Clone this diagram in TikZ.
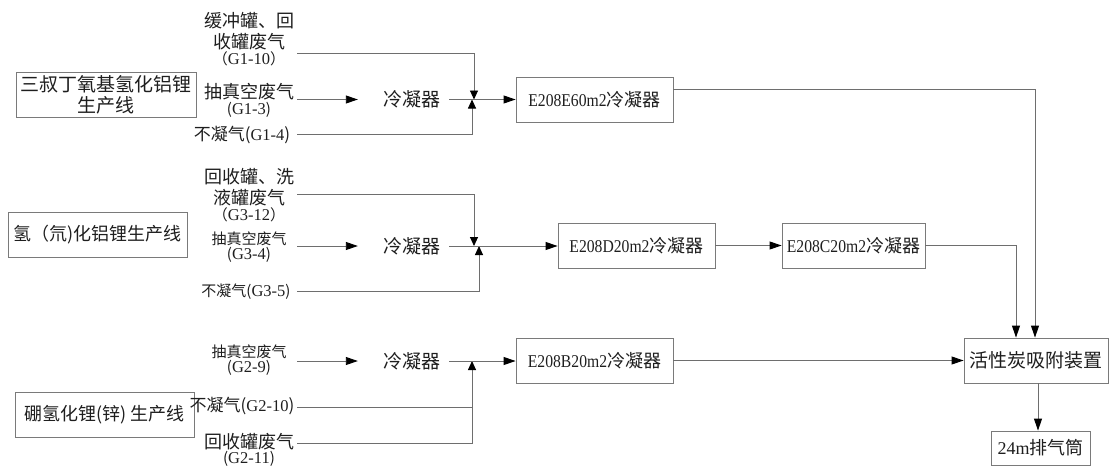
\documentclass[tikz,border=0pt]{standalone}
\usepackage{fontspec}
\setmainfont{Liberation Serif}
\newfontfamily\cjk{Noto Sans CJK SC}
\newfontfamily\latn{Liberation Serif}
\newfontfamily\latnc[FakeStretch=0.87]{Liberation Serif}
\usetikzlibrary{arrows.meta}

\definecolor{linegray}{HTML}{6E6E6E}
\definecolor{boxgray}{HTML}{7A7A7A}
\definecolor{inkgray}{HTML}{1E1E1E}

\newcommand\bigtxt{\cjk\fontsize{18}{21}\selectfont}
\newcommand\midtxt{\cjk\fontsize{17}{20}\selectfont}
\newcommand\smtxt{\cjk\fontsize{15}{17}\selectfont}
% Latin code of a stream, e.g. G1-3
\newcommand\gcode[1]{{\latn\fontsize{16.5}{17}\selectfont #1}}

\tikzset{
  procbox/.style={draw=boxgray, line width=0.9pt, inner sep=0pt,
    minimum height=45pt, align=center, text=inkgray, font=\bigtxt},
  lbl/.style={inner sep=0pt, align=center, text=inkgray},
  condnode/.style={inner sep=0pt, minimum width=74pt, minimum height=20pt,
    text=inkgray, font=\cjk\fontsize{19}{21}\selectfont},
  flow/.style={draw=linegray, line width=0.9pt},
  tip/.style={-{Triangle[length=12pt,width=8pt,color=black]}},
  jtip/.style={-{Triangle[length=9pt,width=8pt,color=black]}},
}

\begin{document}
\begin{tikzpicture}[x=1pt,y=-1pt]
\useasboundingbox (0,0) rectangle (1111,466);

% ---------- production lines ----------
\node[procbox, minimum width=180pt, font=\cjk\fontsize{19}{21}\selectfont]
  (lineA) at (106,94.5) {三叔丁氧基氢化铝锂\\生产线};
\node[procbox, minimum width=179pt] (lineB) at (97.5,235)
  {氢（氘)化铝锂生产线};
\node[procbox, minimum width=179pt] (lineC) at (104.5,414.5)
  {硼氢化锂(锌) 生产线};

% ---------- row 1 ----------
\node[lbl, font=\bigtxt] (gA1) at (249,39)
  {缓冲罐、回\\收罐废气\\[-5pt]{\smtxt （\gcode{G1-10}）}};
\node[lbl, font=\bigtxt] (gA2) at (249,100)
  {抽真空废气\\[-5pt]{\smtxt (\gcode{G1-3})}};
\node[lbl, font=\midtxt] (gA3) at (242,135) {不凝气(\gcode{G1-4})};
\node[condnode] (condA) at (412,99.5) {冷凝器};
\node[procbox, minimum width=157pt] (E1) at (594.5,99.5)
  {{\latnc E208E60m2}冷凝器};

\coordinate (sA1) at (297,53);
\coordinate (sA2) at (297,99.5);
\coordinate (sA3) at (297,134);
\coordinate (jAd) at (474,99.5);
\coordinate (jAu) at (472,99.5);

\draw[flow, jtip] (sA1) -| (jAd);
\draw[flow, jtip] (sA3) -| (jAu);
\draw[flow, tip] (sA2) -- ([xshift=-17pt]condA.west);
\draw[flow, tip] (condA.east) -- (condA.east -| E1.west);

% ---------- row 2 ----------
\node[lbl, font=\bigtxt] (gB1) at (249,195)
  {回收罐、洗\\液罐废气\\[-5pt]{\smtxt （\gcode{G3-12}）}};
\node[lbl, font=\smtxt] (gB2) at (249,247)
  {抽真空废气\\[-2pt](\gcode{G3-4})};
\node[lbl, font=\smtxt] (gB3) at (246,292) {不凝气(\gcode{G3-5})};
\node[condnode] (condB) at (412,246) {冷凝器};
\node[procbox, minimum width=157pt] (E2) at (636.5,245.5)
  {{\latnc E208D20m2}冷凝器};
\node[procbox, minimum width=143pt] (E3) at (853.5,245.5)
  {{\latnc E208C20m2}冷凝器};

\coordinate (sB1) at (297,194);
\coordinate (sB2) at (297,246);
\coordinate (sB3) at (297,291);
\coordinate (jBd) at (474,246);
\coordinate (jBu) at (479,246);

\draw[flow, jtip] (sB1) -| (jBd);
\draw[flow, jtip] (sB3) -| (jBu);
\draw[flow, tip] (sB2) -- ([xshift=-17pt]condB.west);
\draw[flow, tip] (condB.east) -- (condB.east -| E2.west);
\draw[flow, tip] (E2.east) -- (E2.east -| E3.west);

% ---------- row 3 ----------
\node[lbl, font=\smtxt] (gC1) at (249,360)
  {抽真空废气\\[-2pt](\gcode{G2-9})};
\node[lbl, font=\midtxt] (gC2) at (242,406) {不凝气(\gcode{G2-10})};
\node[lbl, font=\bigtxt] (gC3) at (249,450)
  {回收罐废气\\[-6pt]{\smtxt (\gcode{G2-11})}};
\node[condnode] (condC) at (412,361) {冷凝器};
\node[procbox, minimum width=157pt] (E4) at (594.5,360.5)
  {{\latnc E208B20m2}冷凝器};

\coordinate (sC1) at (297,361);
\coordinate (sC2) at (297,407);
\coordinate (sC3) at (297,443);
\coordinate (jCu) at (472,361);

\draw[flow, jtip] (sC3) -| (jCu);
\draw[flow] (sC2) -- (sC2 -| jCu);
\draw[flow, tip] (sC1) -- ([xshift=-17pt]condC.west);
\draw[flow, tip] (condC.east) -- (condC.east -| E4.west);

% ---------- treatment and stack ----------
\node[procbox, minimum width=144pt, font=\cjk\fontsize{19}{21}\selectfont]
  (AC) at (1036,360.5) {活性炭吸附装置};
\node[procbox, minimum width=99pt, minimum height=34pt] (ST) at (1040.5,448)
  {{\latn 24m}排气筒};

\draw[flow, tip] (E4.east) -- (E4.east -| AC.west);
\draw[flow, tip] ([yshift=10pt]E1.east) -| ([xshift=-1pt]AC.north);
\draw[flow, tip] (E3.east) -| ([xshift=-20pt]AC.north);
\draw[flow, tip] ([xshift=2pt]AC.south) -- ([xshift=2pt]AC.south |- ST.north);
\end{tikzpicture}
\end{document}
